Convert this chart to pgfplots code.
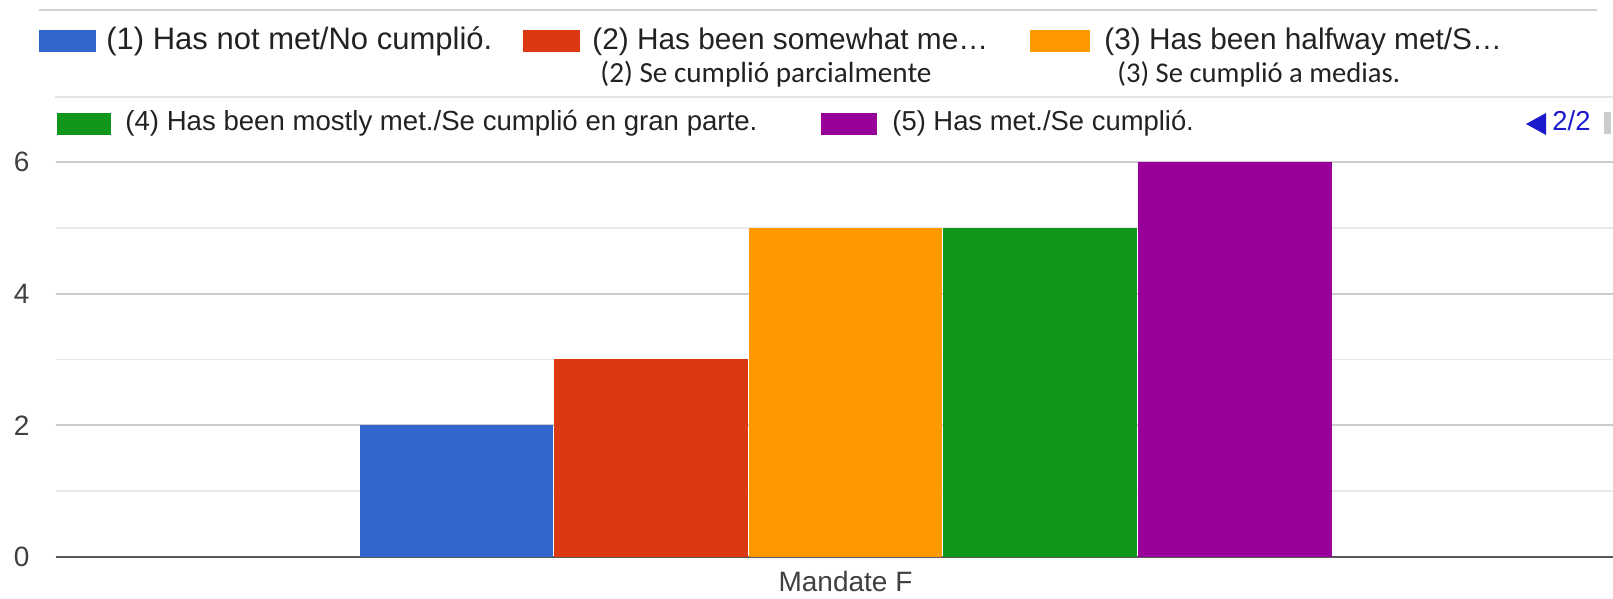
\documentclass[border=0pt]{standalone}
\usepackage{fontspec}
\setmainfont{Liberation Sans}
\newfontfamily\calfont{Carlito}
\usepackage{pgfplots}
\pgfplotsset{compat=1.18}

% Google chart palette
\definecolor{c1}{HTML}{3366CC}
\definecolor{c2}{HTML}{DC3912}
\definecolor{c3}{HTML}{FF9900}
\definecolor{c4}{HTML}{109618}
\definecolor{c5}{HTML}{990099}
\definecolor{txt}{HTML}{222222}
\definecolor{navc}{HTML}{1A1ACC}

% pixel position of the reference -> picture coordinates (origin at axis lower left)
\newcommand{\px}[2]{({(#1-56)*0.5pt},{(557-#2)*0.5pt})}

\begin{document}
\begin{tikzpicture}
\useasboundingbox \px{0}{599} rectangle \px{1613}{0};

\begin{axis}[
  scale only axis,
  width=778.5pt, height=197.5pt,
  xmin=-394.75, xmax=383.75,
  ymin=0, ymax=6,
  ybar=0.5pt, bar width=96.8pt,
  xtick={0}, xticklabels={Mandate F},
  ytick={0,2,4,6}, minor ytick={1,3,5},
  ymajorgrids=true, yminorgrids=true,
  major grid style={draw=black!20, line width=0.9pt},
  minor grid style={draw=black!9, line width=0.7pt},
  major tick length=0pt, minor tick length=0pt,
  axis x line*=bottom, axis y line*=left,
  y axis line style={draw=none},
  x axis line style={draw=black!65, line width=1.2pt, -},
  tick label style={font=\fontsize{14}{16}\selectfont, text=black!75},
  /pgf/number format/assume math mode=true,
  yticklabel style={anchor=center, xshift=-20.5pt+0.333em},
  xticklabel style={anchor=center, yshift=-12pt},
  every axis plot/.append style={draw=none},
]
\addplot[fill=c1] coordinates {(0,2)};
\addplot[fill=c2] coordinates {(0,3)};
\addplot[fill=c3] coordinates {(0,5)};
\addplot[fill=c4] coordinates {(0,5)};
\addplot[fill=c5] coordinates {(0,6)};
\end{axis}

% legend (paged, as in the source chart)
\draw[black!18, line width=0.9pt] \px{39}{10} -- \px{1597}{10};
\draw[black!10, line width=0.7pt] \px{55}{97} -- \px{1613}{97};

\tikzset{lg/.style={anchor=base west, inner sep=0pt, text=txt},
         an/.style={anchor=base west, inner sep=0pt, text=txt}}

\fill[c1] \px{39}{30} rectangle \px{96}{52};
\node[lg, font=\fontsize{15.5}{17}\selectfont] at \px{106}{50} {(1) Has not met/No cumplió.};
\fill[c2] \px{523}{30} rectangle \px{580}{52};
\node[lg, font=\fontsize{14.9}{17}\selectfont] at \px{592}{50} {(2) Has been somewhat me…};
\fill[c3] \px{1030}{30} rectangle \px{1090}{52};
\node[lg, font=\fontsize{14.9}{17}\selectfont] at \px{1104}{50} {(3) Has been halfway met/S…};

\node[an, font=\calfont\fontsize{14.6}{16}\selectfont] at \px{600}{83} {(2) Se cumplió parcialmente};
\node[an, font=\calfont\fontsize{14.3}{16}\selectfont] at \px{1117}{83} {(3) Se cumplió a medias.};

\fill[c4] \px{57}{113} rectangle \px{111}{135};
\node[lg, font=\fontsize{13.8}{16}\selectfont] at \px{125}{131} {(4) Has been mostly met./Se cumplió en gran parte.};
\fill[c5] \px{821}{113} rectangle \px{877}{135};
\node[lg, font=\fontsize{13.7}{16}\selectfont] at \px{892}{131} {(5) Has met./Se cumplió.};

\fill[navc] \px{1526}{124} -- \px{1546}{113} -- \px{1546}{135} -- cycle;
\node[lg, text=navc, font=\fontsize{13.7}{16}\selectfont] at \px{1552}{131} {2/2};
\fill[black!20] \px{1604}{112} rectangle \px{1611}{134};
\end{tikzpicture}
\end{document}
